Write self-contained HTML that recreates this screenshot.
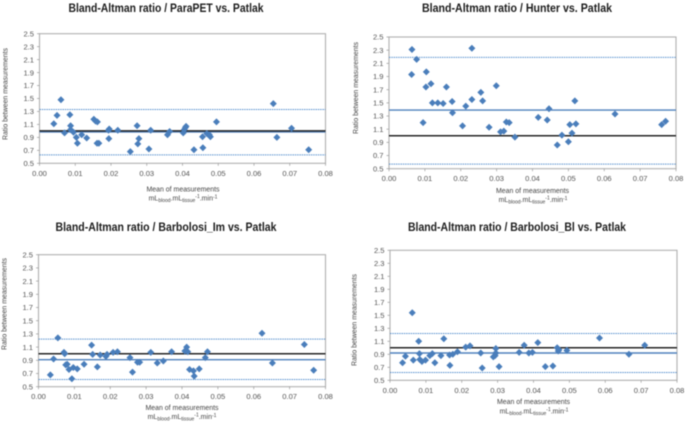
<!DOCTYPE html>
<html lang="en">
<head>
<meta charset="utf-8">
<title>Bland-Altman ratio charts</title>
<style>
html,body{margin:0;padding:0;background:#fff;width:685px;height:422px;overflow:hidden}
svg{display:block;filter:blur(0.45px)}
text{font-family:"Liberation Sans",sans-serif}
.title{font-size:11.5px;font-weight:bold;fill:#1c1c1c;text-anchor:middle}
.axis-title{font-size:7.6px;fill:#444;text-anchor:middle}
.unit{font-size:7px;fill:#444;text-anchor:middle}
.tick{font-size:7.6px;fill:#555}
</style>
</head>
<body>
<svg id="figure" width="685" height="422" viewBox="0 0 685 422" xmlns="http://www.w3.org/2000/svg">
  <g id="chart-parapet">
    <text class="title" x="166" y="12" textLength="195" lengthAdjust="spacingAndGlyphs">Bland-Altman ratio / ParaPET vs. Patlak</text>
    <text class="axis-title" transform="translate(7.5,94) rotate(-90)" textLength="92" lengthAdjust="spacingAndGlyphs">Ratio between measurements</text>
    <text class="axis-title" x="183" y="191.5" textLength="73" lengthAdjust="spacingAndGlyphs">Mean of measurements</text>
    <text class="unit" x="183" y="200.5">mL<tspan font-size="5" dy="1.5">blood</tspan><tspan dy="-1.5">.mL</tspan><tspan font-size="5" dy="1.5">tissue</tspan><tspan font-size="5" dy="-4">-1</tspan><tspan dy="2.5">.min</tspan><tspan font-size="5" dy="-2">-1</tspan></text>
  </g>
  <g id="chart-hunter">
    <text class="title" x="517" y="12" textLength="190" lengthAdjust="spacingAndGlyphs">Bland-Altman ratio / Hunter vs. Patlak</text>
    <text class="axis-title" transform="translate(358,88) rotate(-90)" textLength="92" lengthAdjust="spacingAndGlyphs">Ratio between measurements</text>
    <text class="axis-title" x="532.5" y="193" textLength="73" lengthAdjust="spacingAndGlyphs">Mean of measurements</text>
    <text class="unit" x="533" y="202">mL<tspan font-size="5" dy="1.5">blood</tspan><tspan dy="-1.5">.mL</tspan><tspan font-size="5" dy="1.5">tissue</tspan><tspan font-size="5" dy="-4">-1</tspan><tspan dy="2.5">.min</tspan><tspan font-size="5" dy="-2">-1</tspan></text>
  </g>
  <g id="chart-barbolosi-im">
    <text class="title" x="166" y="231" textLength="221" lengthAdjust="spacingAndGlyphs">Bland-Altman ratio / Barbolosi_Im vs. Patlak</text>
    <text class="axis-title" transform="translate(6.5,304) rotate(-90)" textLength="92" lengthAdjust="spacingAndGlyphs">Ratio between measurements</text>
    <text class="axis-title" x="182" y="410" textLength="73" lengthAdjust="spacingAndGlyphs">Mean of measurements</text>
    <text class="unit" x="182" y="419">mL<tspan font-size="5" dy="1.5">blood</tspan><tspan dy="-1.5">.mL</tspan><tspan font-size="5" dy="1.5">tissue</tspan><tspan font-size="5" dy="-4">-1</tspan><tspan dy="2.5">.min</tspan><tspan font-size="5" dy="-2">-1</tspan></text>
  </g>
  <g id="chart-barbolosi-bl">
    <text class="title" x="517" y="231" textLength="218" lengthAdjust="spacingAndGlyphs">Bland-Altman ratio / Barbolosi_Bl vs. Patlak</text>
    <text class="axis-title" transform="translate(356.5,320) rotate(-90)" textLength="92" lengthAdjust="spacingAndGlyphs">Ratio between measurements</text>
    <text class="axis-title" x="533.5" y="404" textLength="73" lengthAdjust="spacingAndGlyphs">Mean of measurements</text>
    <text class="unit" x="534" y="413.5">mL<tspan font-size="5" dy="1.5">blood</tspan><tspan dy="-1.5">.mL</tspan><tspan font-size="5" dy="1.5">tissue</tspan><tspan font-size="5" dy="-4">-1</tspan><tspan dy="2.5">.min</tspan><tspan font-size="5" dy="-2">-1</tspan></text>
  </g>
</svg>
<script>
var xTickLabels = ["0.00","0.01","0.02","0.03","0.04","0.05","0.06","0.07","0.08"];
var yTickLabels = ["0.5","0.7","0.9","1.1","1.3","1.5","1.7","1.9","2.1","2.3","2.5"];

var parapetX = [0.0040,0.0049,0.0060,0.0070,0.0085,0.0087,0.0087,0.0095,0.0103,0.0106,0.0118,0.0132,0.0152,0.0157,0.0161,0.0162,0.0166,0.0193,0.0195,0.0194,0.0219,0.0254,0.0273,0.0275,0.0278,0.0306,0.0311,0.0358,0.0364,0.0402,0.0405,0.0408,0.0410,0.0432,0.0456,0.0457,0.0468,0.0475,0.0478,0.0495,0.0654,0.0664,0.0705,0.0753];
var parapetY = [1.11,1.24,1.48,0.97,1.25,1.08,1.02,0.98,0.90,0.81,0.94,0.89,1.18,1.15,0.81,1.14,0.81,1.01,1.03,0.88,1.01,0.68,1.08,0.80,0.88,0.72,1.01,0.94,0.99,0.97,1.02,1.05,1.07,0.71,0.91,0.74,0.96,0.94,0.91,1.14,1.42,0.90,1.04,0.71];
var parapetLimits = [0.63,0.985,1.33];

var hunterX = [0.0064,0.0077,0.0063,0.0095,0.0104,0.0103,0.0117,0.0121,0.0136,0.0151,0.0160,0.0176,0.0177,0.0205,0.0214,0.0231,0.0231,0.0256,0.0261,0.0279,0.0299,0.0311,0.0320,0.0327,0.0335,0.0351,0.0416,0.0441,0.0446,0.0469,0.0482,0.0500,0.0504,0.0510,0.0518,0.0521,0.0630,0.0760,0.0771];
var hunterY = [2.31,2.16,1.93,1.20,1.97,1.74,1.79,1.50,1.50,1.49,1.74,1.52,1.35,1.15,1.45,2.33,1.55,1.66,1.53,1.13,1.76,1.06,1.07,1.21,1.20,0.98,1.28,1.24,1.41,0.86,1.01,0.91,1.17,1.04,1.53,1.18,1.33,1.17,1.22];
var hunterLimits = [0.57,1.39,2.19];

var barbolosiImX = [0.0033,0.0042,0.0054,0.0071,0.0073,0.0076,0.0080,0.0085,0.0093,0.0097,0.0108,0.0127,0.0148,0.0151,0.0164,0.0172,0.0188,0.0191,0.0208,0.0220,0.0255,0.0262,0.0276,0.0282,0.0313,0.0331,0.0348,0.0371,0.0408,0.0413,0.0416,0.0421,0.0432,0.0434,0.0448,0.0465,0.0471,0.0623,0.0652,0.0741,0.0767];
var barbolosiImY = [0.68,0.92,1.24,1.02,1.00,0.83,0.84,0.76,0.62,0.79,0.77,0.84,1.13,0.99,0.80,0.98,0.96,0.99,1.02,1.03,0.94,0.72,0.87,0.87,1.02,0.86,0.89,1.03,1.04,1.10,1.03,0.76,0.74,0.66,0.77,0.94,1.03,1.31,0.86,1.14,0.75];
var barbolosiImLimits = [0.61,0.91,1.22];

var barbolosiBlX = [0.0035,0.0043,0.0062,0.0065,0.0080,0.0082,0.0083,0.0089,0.0099,0.0111,0.0118,0.0125,0.0142,0.0150,0.0166,0.0167,0.0175,0.0188,0.0211,0.0223,0.0253,0.0257,0.0288,0.0293,0.0295,0.0295,0.0304,0.0360,0.0374,0.0387,0.0397,0.0412,0.0433,0.0454,0.0466,0.0469,0.0471,0.0493,0.0584,0.0666,0.0710];
var barbolosiBlY = [0.77,0.87,1.54,0.81,1.10,0.91,0.82,0.79,0.81,0.88,0.91,0.77,0.88,1.14,0.89,0.73,0.90,0.94,1.01,1.03,0.92,0.69,0.86,0.88,0.92,0.99,0.71,0.93,1.04,0.92,0.93,1.08,0.71,0.72,1.00,0.95,0.97,0.96,1.15,0.90,1.04];
var barbolosiBlLimits = [0.62,0.92,1.22];

var identityRatio = 1.0;

var SVGNS = "http://www.w3.org/2000/svg";

function el(tag, parent, attrs, name) {
  var n = document.createElementNS(SVGNS, tag);
  for (var k in attrs) n.setAttribute(k, attrs[k]);
  
  
  parent.appendChild(n);
  return n;
}

function drawChart(id, prefix, box, xs, ys, limits) {
  var g = document.getElementById(id);
  var xScale = function (v) { return box.left + (v - 0) / 0.08 * (box.right - box.left); };
  var yScale = function (v) { return box.bottom - (v - 0.5) / 2.0 * (box.bottom - box.top); };

  el('rect', g, {x: box.left, y: box.top, width: box.right - box.left, height: box.bottom - box.top, fill: '#fff', stroke: '#b0b0b0', 'stroke-width': 1.1}, prefix + '-plot-area');

  yTickLabels.forEach(function (label) {
    var y = yScale(parseFloat(label));
    el('line', g, {x1: box.left - 2.5, x2: box.left, y1: y, y2: y, stroke: '#999', 'stroke-width': 0.7}, prefix + '-y-tick');
    var t = el('text', g, {x: box.left - 5.5, y: y + 2.7, 'text-anchor': 'end', 'class': 'tick'}, prefix + '-y-tick-label');
    t.textContent = label;
  });

  xTickLabels.forEach(function (label) {
    var x = xScale(parseFloat(label));
    el('line', g, {x1: x, x2: x, y1: box.bottom, y2: box.bottom + 2.5, stroke: '#999', 'stroke-width': 0.7}, prefix + '-x-tick');
    var t = el('text', g, {x: x, y: box.bottom + 12.5, 'text-anchor': 'middle', 'class': 'tick'}, prefix + '-x-tick-label');
    t.textContent = label;
  });

  el('line', g, {x1: box.left, x2: box.right, y1: yScale(limits[0]), y2: yScale(limits[0]), stroke: '#5b93cf', 'stroke-width': 1, 'stroke-dasharray': '1.5 0.8'}, prefix + '-lower-limit-line');
  el('line', g, {x1: box.left, x2: box.right, y1: yScale(limits[2]), y2: yScale(limits[2]), stroke: '#5b93cf', 'stroke-width': 1, 'stroke-dasharray': '1.5 0.8'}, prefix + '-upper-limit-line');
  el('line', g, {x1: box.left, x2: box.right, y1: yScale(limits[1]), y2: yScale(limits[1]), stroke: '#4f81bd', 'stroke-width': 1.4}, prefix + '-mean-ratio-line');
  el('line', g, {x1: box.left, x2: box.right, y1: yScale(identityRatio), y2: yScale(identityRatio), stroke: '#262626', 'stroke-width': 1.5}, prefix + '-identity-line');

  xs.forEach(function (v, i) {
    var cx = xScale(v), cy = yScale(ys[i]), r = 3.5;
    el('polygon', g, {points: [cx - r, cy, cx, cy - r, cx + r, cy, cx, cy + r].join(' '), fill: '#4a7ebb'}, prefix + '-point');
  });
}

drawChart('chart-parapet', 'parapet', {left: 39.5, right: 325.5, top: 33.7, bottom: 163.3}, parapetX, parapetY, parapetLimits);
drawChart('chart-hunter', 'hunter', {left: 389, right: 676, top: 37, bottom: 168.7}, hunterX, hunterY, hunterLimits);
drawChart('chart-barbolosi-im', 'barbolosi-im', {left: 38.5, right: 325.5, top: 254.7, bottom: 386.7}, barbolosiImX, barbolosiImY, barbolosiImLimits);
drawChart('chart-barbolosi-bl', 'barbolosi-bl', {left: 390, right: 677, top: 250.3, bottom: 380.3}, barbolosiBlX, barbolosiBlY, barbolosiBlLimits);
</script>
</body>
</html>
